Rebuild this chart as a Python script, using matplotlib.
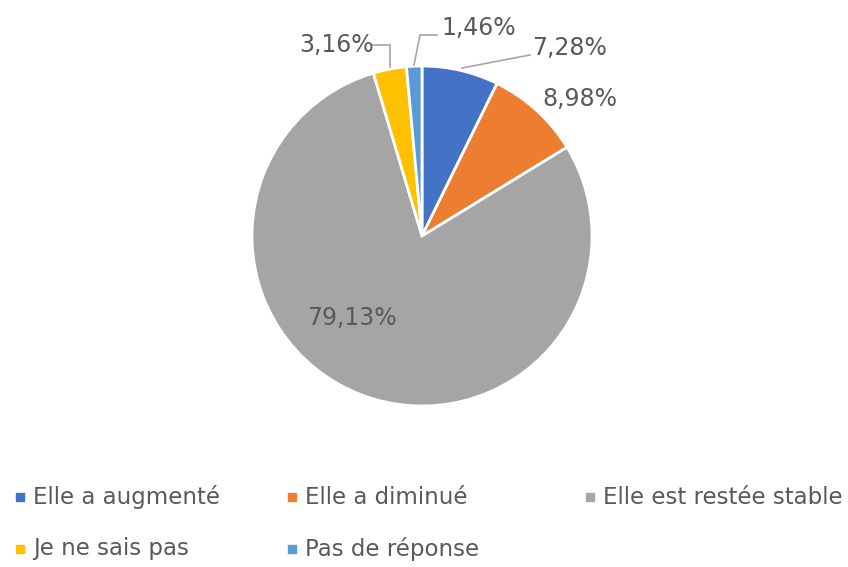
import matplotlib.pyplot as plt
import matplotlib.patches as mpatches
from matplotlib import font_manager as fm

# données
categories = ["Elle a augmenté", "Elle a diminué", "Elle est restée stable",
              "Je ne sais pas", "Pas de réponse"]
values = [7.28, 8.98, 79.13, 3.16, 1.46]
colors = ["#4472C4", "#ED7D31", "#A5A5A5", "#FFC000", "#5B9BD5"]

names = {f.name for f in fm.fontManager.ttflist}
font = "Liberation Sans Narrow" if "Liberation Sans Narrow" in names else "DejaVu Sans"
plt.rcParams['font.family'] = [font, 'DejaVu Sans']
txt_color = "#595959"

W, H = 848, 567
fig = plt.figure(figsize=(W / 100, H / 100), dpi=100)

# axe du camembert : centre (422, 236), rayon 170 px
cx, cy, r = 422, 236, 170
ax = fig.add_axes([(cx - r) / W, (H - cy - r) / H, 2 * r / W, 2 * r / H])
wedges, _ = ax.pie(values, colors=colors, startangle=90, counterclock=False,
                   radius=1, wedgeprops=dict(edgecolor="white", linewidth=2))
ax.set_xlim(-1, 1)
ax.set_ylim(-1, 1)
ax.set_aspect("equal")
ax.axis("off")


def to_data(px, py):
    return (px - cx) / r, (cy - py) / r


labels = [f"{v:.2f}%".replace(".", ",") for v in values]
label_pos = [(532, 48, "left"), (580, 99, "center"), (352, 318, "center"),
             (337, 45, "center"), (441, 28, "left")]
leaders = [
    [(462, 68), (530, 55)],
    None,
    None,
    [(372, 45), (390, 45), (390, 67)],
    [(437, 35), (420, 35), (414, 65)],
]

for lab, (px, py, ha), ld in zip(labels, label_pos, leaders):
    x, y = to_data(px, py)
    ax.text(x, y, lab, ha=ha, va="center", fontsize=17, color=txt_color,
            clip_on=False)
    if ld:
        xs, ys = zip(*[to_data(a, b) for a, b in ld])
        ax.plot(xs, ys, color="#A6A6A6", lw=1.2, clip_on=False)

# légende manuelle (disposition en lignes)
leg_pos = [(20, 497), (292, 497), (590, 497), (20, 549), (292, 549)]
sq = 8
for cat, col, (px, py) in zip(categories, colors, leg_pos):
    fig.patches.append(mpatches.Rectangle(((px - sq / 2) / W, (H - py - sq / 2) / H),
                                          sq / W, sq / H, color=col,
                                          transform=fig.transFigure, figure=fig))
    fig.text((px + 13) / W, (H - py) / H, cat, ha="left", va="center",
             fontsize=16.5, color=txt_color)

plt.savefig("out.png", dpi=100)
